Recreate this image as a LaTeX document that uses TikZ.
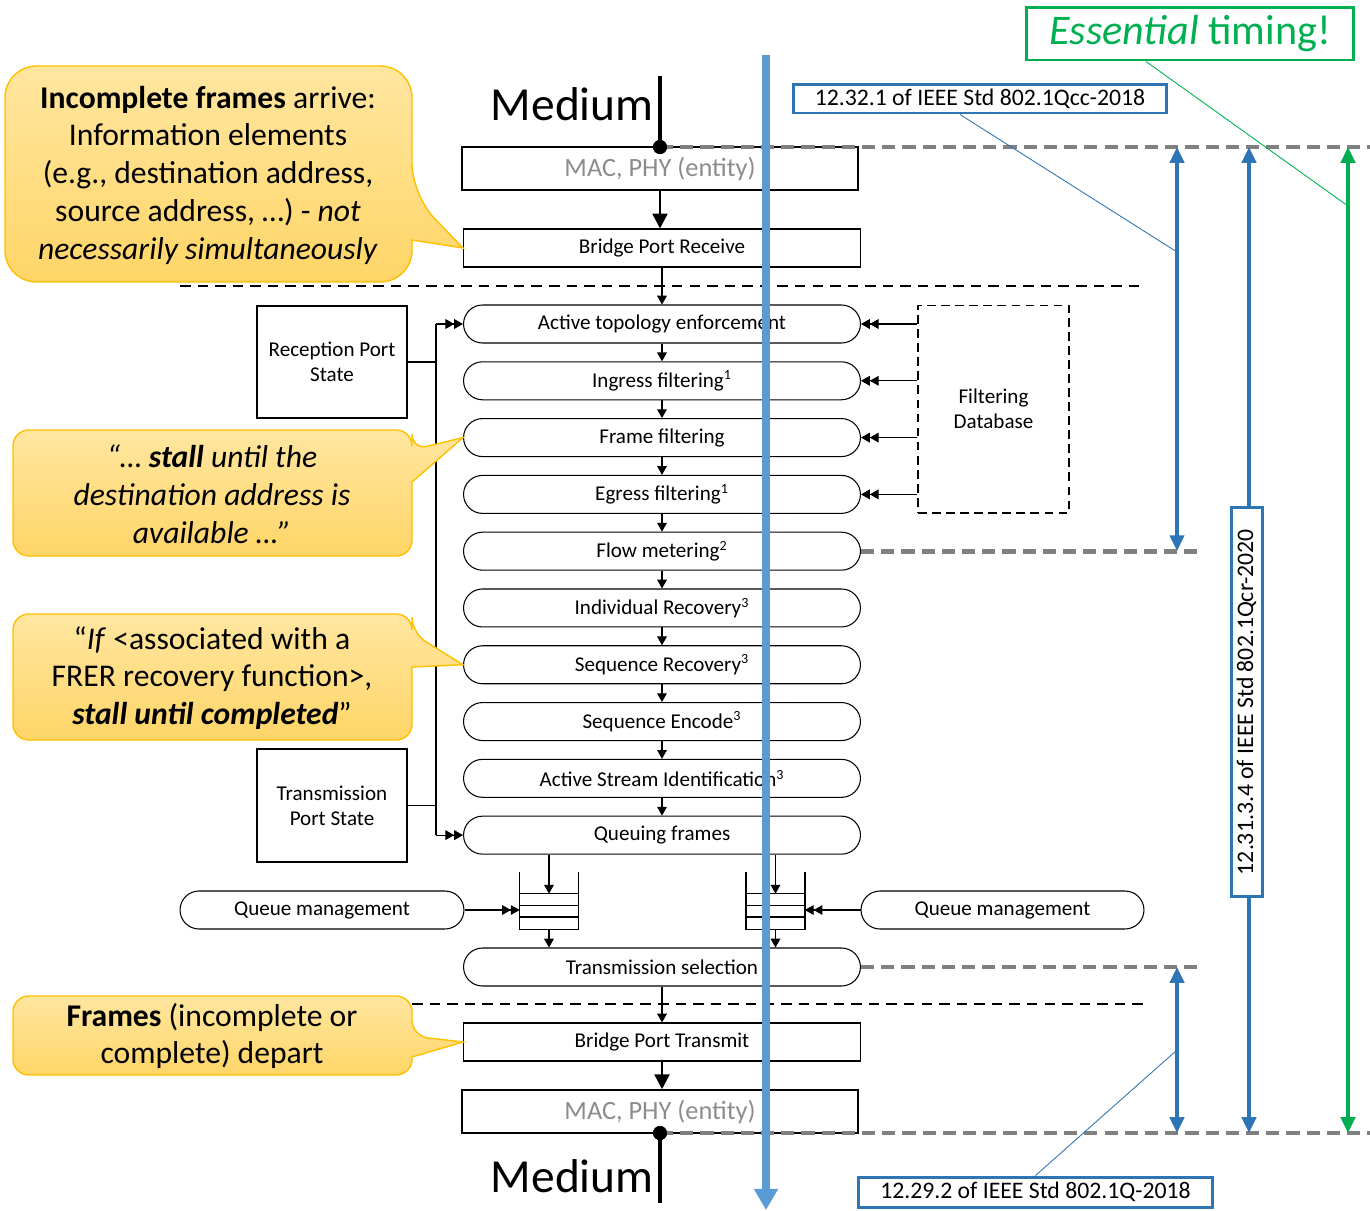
\documentclass[tikz,border=0pt]{standalone}
\usepackage{fontspec}
\setmainfont{Carlito}
\usepackage{tikz}
\usetikzlibrary{arrows.meta, positioning}

\definecolor{refblue}{HTML}{2E75B6}
\definecolor{flowblue}{HTML}{5B9BD5}
\definecolor{refgreen}{HTML}{00B050}
\definecolor{goldline}{HTML}{FFC000}
\definecolor{calltop}{HTML}{FFE6A0}
\definecolor{callbot}{HTML}{FFD567}
\definecolor{macgray}{HTML}{8C8C8C}
\definecolor{bargray}{HTML}{808080}

\begin{document}
\begin{tikzpicture}[x=0.02cm, y=-0.02cm]
		\tikzset{
			node distance=0.355cm,
			proc/.style={rectangle, draw, rounded corners=0.38cm, minimum width=7.94cm, minimum height=0.76cm,
			inner sep=0pt, line width=0.6pt, font=\fontsize{12}{14.4}\selectfont},
			port/.style={rectangle, draw, minimum width=7.94cm, minimum height=0.76cm,
			inner sep=0pt, line width=0.6pt, font=\fontsize{12}{14.4}\selectfont},
			macbox/.style={rectangle, draw, line width=0.85pt, minimum width=7.92cm, minimum height=0.86cm,
			inner sep=0pt, text=macgray, font=\fontsize{15}{18}\selectfont},
			statebox/.style={rectangle, draw, line width=0.6pt, minimum width=3cm, align=center,
			font=\fontsize{12}{14.4}\selectfont},
			medium/.style={font=\fontsize{27}{32}\selectfont, inner sep=0pt},
			note/.style={align=center, font=\fontsize{18}{21.5}\selectfont},
			callout/.style={draw=goldline, line width=0.8pt, top color=calltop, bottom color=callbot},
			reflabel/.style={rectangle, draw=refblue, line width=1.7pt, fill=white, inner sep=0pt,
			font=\fontsize{13.5}{16}\selectfont},
			arr/.style={-{Triangle[width=5.5pt,length=5pt]}, line width=0.6pt},
			dbl/.style={-{Triangle[width=5.5pt,length=5pt]Triangle[width=5.5pt,length=5pt]}, line width=0.6pt},
			thickarr/.style={-{Triangle[width=8.5pt,length=8.5pt]}, line width=1.4pt},
			qline/.style={line width=0.9pt},
			sep/.style={dash pattern=on 6pt off 4pt, line width=0.8pt},
			bar/.style={bargray, line width=2.8pt, dash pattern=on 7.5pt off 4pt},
			span/.style={refblue, line width=2.2pt, {Triangle[width=8pt,length=9pt]}-{Triangle[width=8pt,length=9pt]}},
			pinline/.style={refblue, line width=0.5pt}
		}
		\useasboundingbox (0,0) rectangle (1370,1211);

		% receive side
		\node[macbox] (macrx) at (660,168.5) {MAC, PHY (entity)};
		\node[port] (bpr) at (662,248) {Bridge Port Receive};

		% relay chain
		\node[proc] (ate) at (662,324) {Active topology enforcement};
		\node[proc, below=of ate] (ingress) {Ingress filtering\textsuperscript{1}};
		\node[proc, below=of ingress] (framefilt) {Frame filtering};
		\node[proc, below=of framefilt] (egress) {Egress filtering\textsuperscript{1}};
		\node[proc, below=of egress] (flowmeter) {Flow metering\textsuperscript{2}};
		\node[proc, below=of flowmeter] (indrec) {Individual Recovery\textsuperscript{3}};
		\node[proc, below=of indrec] (seqrec) {Sequence Recovery\textsuperscript{3}};
		\node[proc, below=of seqrec] (seqenc) {Sequence Encode\textsuperscript{3}};
		\node[proc, below=of seqenc] (streamid) {Active Stream Identification\textsuperscript{3}};
		\node[proc, below=of streamid] (queuing) {Queuing frames};

		% transmit side
		\node[proc] (txsel) at (662,967) {Transmission selection};
		\node[port] (bpt) at (662,1042) {Bridge Port Transmit};
		\node[macbox] (mactx) at (660,1111.5) {MAC, PHY (entity)};

		% side boxes
		\node[rectangle, draw, dash pattern=on 5pt off 3pt, line width=0.6pt, minimum width=3.02cm, minimum height=4.16cm,
			align=center, font=\fontsize{12}{14.4}\selectfont] (fdb) at (993.5,409) {Filtering\\Database};
		\node[statebox, minimum height=2.24cm] (rxstate) at (332,362) {Reception Port\\State};
		\node[statebox, minimum height=2.26cm] (txstate) at (332,805.5) {Transmission\\Port State};
		\node[proc, minimum width=5.68cm] (qmleft) at (322,910) {Queue management};
		\node[proc, minimum width=5.66cm] (qmright) at (1002.5,910) {Queue management};

		% queues
		\node[minimum width=1.16cm, minimum height=0.7cm, inner sep=0pt] (qleft) at (549,911.5) {};
		\node[minimum width=1.16cm, minimum height=0.7cm, inner sep=0pt] (qright) at (775.5,911.5) {};
		\foreach \q in {qleft, qright}{
			\draw[qline] ([yshift=0.44cm]\q.north west) -- (\q.south west) -- (\q.south east) -- ([yshift=0.44cm]\q.north east);
			\draw[qline] (\q.north west) -- (\q.north east);
			\draw[qline] ([yshift=-0.233cm]\q.north west) -- ([yshift=-0.233cm]\q.north east);
			\draw[qline] ([yshift=-0.467cm]\q.north west) -- ([yshift=-0.467cm]\q.north east);
		}

		% dashed separators
		\coordinate (sepa) at (180,286);
		\coordinate (sepb) at (1145,286);
		\coordinate (sepc) at (412,1004);
		\coordinate (sepd) at (1145,1004);
		\draw[sep] (sepa) -- (sepb);
		\draw[sep] (sepc) -- (sepd);

		% flow arrows
		\draw[thickarr] (macrx.south) -- (macrx.south |- bpr.north);
		\draw[arr] (bpr) -- (ate);
		\draw[arr] (ate) -- (ingress);
		\draw[arr] (ingress) -- (framefilt);
		\draw[arr] (framefilt) -- (egress);
		\draw[arr] (egress) -- (flowmeter);
		\draw[arr] (flowmeter) -- (indrec);
		\draw[arr] (indrec) -- (seqrec);
		\draw[arr] (seqrec) -- (seqenc);
		\draw[arr] (seqenc) -- (streamid);
		\draw[arr] (streamid) -- (queuing);
		\draw[arr] (queuing.south -| qleft) -- (qleft.north);
		\draw[arr] (queuing.south -| qright) -- (qright.north);
		\draw[arr] (qleft.south) -- (qleft.south |- txsel.north);
		\draw[arr] (qright.south) -- (qright.south |- txsel.north);
		\draw[arr] (txsel) -- (bpt);
		\draw[thickarr] (bpt.south) -- (bpt.south |- mactx.north);

		% filtering database and port state
		\draw[dbl] (ate.east -| fdb.west) -- (ate.east);
		\draw[dbl] (ingress.east -| fdb.west) -- (ingress.east);
		\draw[dbl] (framefilt.east -| fdb.west) -- (framefilt.east);
		\draw[dbl] (egress.east -| fdb.west) -- (egress.east);
		\coordinate (bus) at (436,0);
		\draw[line width=0.6pt] (rxstate.east) -- (rxstate.east -| bus);
		\draw[line width=0.6pt] (txstate.east) -- (txstate.east -| bus);
		\draw[line width=0.6pt] (ate.west -| bus) -- (queuing.west -| bus);
		\draw[dbl] (ate.west -| bus) -- (ate.west);
		\draw[dbl] (queuing.west -| bus) -- (queuing.west);
		\draw[dbl] (qmleft.east) -- (qmleft.east -| qleft.west);
		\draw[dbl] (qmright.west) -- (qmright.west -| qright.east);

		% callouts
		\draw[callout] (208,66) [rounded corners=18pt] -- (412,66) -- (412,195) [sharp corners] -- (bpr.west)
			-- (412,240) [rounded corners=18pt] -- (412,282) -- (5,282) -- (5,66) -- cycle;
		\draw[callout] (212,430) [rounded corners=9pt] -- (412,430) -- (412,450) [sharp corners] -- (framefilt.west)
			-- (412,482) [rounded corners=9pt] -- (412,556) -- (13,556) -- (13,430) -- cycle;
		\draw[callout] (212,614) [rounded corners=9pt] -- (412,614) -- (412,633) [sharp corners] -- (seqrec.west)
			-- (412,667) [rounded corners=9pt] -- (412,740) -- (13,740) -- (13,614) -- cycle;
		\draw[callout] (212,996) [rounded corners=9pt] -- (412,996) -- (412,1036) [sharp corners] -- (bpt.west)
			-- (412,1057) [rounded corners=9pt] -- (412,1075) -- (13,1075) -- (13,996) -- cycle;
		\node[note] (arrive) at (208,175) {\textbf{Incomplete frames} arrive:\\Information elements\\(e.g., destination address,\\source address, …) - \textit{not}\\\textit{necessarily simultaneously}};
		\node[note] (stall) at (212,494) {\textit{“… \textbf{stall} until the}\\\textit{destination address is}\\\textit{available …”}};
		\node[note] (frer) at (212,678) {“\textit{If} <associated with a\\FRER recovery function>,\\\textit{\textbf{stall until completed}}”};
		\node[note] (depart) at (212,1036) {\textbf{Frames} (incomplete or\\complete) depart};

		% timing references
		\coordinate (rightedge) at (1370,0);
		\coordinate (barstop) at (1200,0);
		\coordinate (spana) at (1177,0);
		\coordinate (spanb) at (1249,0);
		\coordinate (spanc) at (1348,0);
		\node[circle, fill, inner sep=0pt, minimum size=0.28cm] (dotrx) at (660,147) {};
		\node[circle, fill, inner sep=0pt, minimum size=0.28cm] (dottx) at (660,1133) {};
		\draw[bar] (dotrx.center) -- (dotrx.center -| rightedge);
		\draw[bar] (flowmeter.east) -- (flowmeter.east -| barstop);
		\draw[bar] (txsel.east) -- (txsel.east -| barstop);
		\draw[bar] (dottx.center) -- (dottx.center -| rightedge);
		\node[circle, fill, inner sep=0pt, minimum size=0.28cm] at (dotrx) {};
		\node[circle, fill, inner sep=0pt, minimum size=0.28cm] at (dottx) {};
		\draw[span] (dotrx -| spana) -- (flowmeter.east -| spana);
		\draw[span] (txsel.east -| spana) -- (dottx -| spana);
		\draw[span] (dotrx -| spanb) -- (dottx -| spanb);
		\draw[span, refgreen] (dotrx -| spanc) -- (dottx -| spanc);

		% medium
		\coordinate (mediumtop) at (660,76);
		\coordinate (mediumbot) at (660,1203);
		\draw[line width=2.8pt] (mediumtop) -- (dotrx.center);
		\draw[line width=2.8pt] (dottx.center) -- (mediumbot);
		\node[medium, anchor=base east] (medrx) at (654,120) {Medium};
		\node[medium, anchor=base east] (medtx) at (654,1192) {Medium};

		% labels
		\node[reflabel, minimum width=7.48cm, minimum height=0.58cm] (qcc) at (980,98.5) {12.32.1 of IEEE Std 802.1Qcc-2018};
		\node[reflabel, minimum width=7.1cm, minimum height=0.6cm] (qbase) at (1035.5,1192) {12.29.2 of IEEE Std 802.1Q-2018};
		\node[reflabel, rotate=90, minimum width=7.8cm, minimum height=0.62cm] (qcr) at (1246.5,702) {12.31.3.4 of IEEE Std 802.1Qcr-2020};
		\node[rectangle, draw=refgreen, line width=1.7pt, text=refgreen, minimum width=6.56cm, minimum height=1.06cm,
			font=\fontsize{24}{28}\selectfont] (timing) at (1190,33.5) {\textit{Essential} timing!};
		\coordinate (qccpin) at (1177,252);
		\coordinate (qbasepin) at (1177,1050);
		\coordinate (timingpin) at (1348,206);
		\draw[pinline] ([xshift=-0.4cm]qcc.south) -- (qccpin);
		\draw[pinline] (qbase.north) -- (qbasepin);
		\draw[refgreen, line width=0.5pt] ([xshift=-0.88cm]timing.south) -- (timingpin);

		% frame path
		\coordinate (flowtop) at (766,55);
		\coordinate (flowbot) at (766,1210);
		\draw[flowblue, line width=4.5pt, -{Triangle[width=13pt,length=12pt]}] (flowtop) -- (flowbot);

	\end{tikzpicture}
\end{document}
